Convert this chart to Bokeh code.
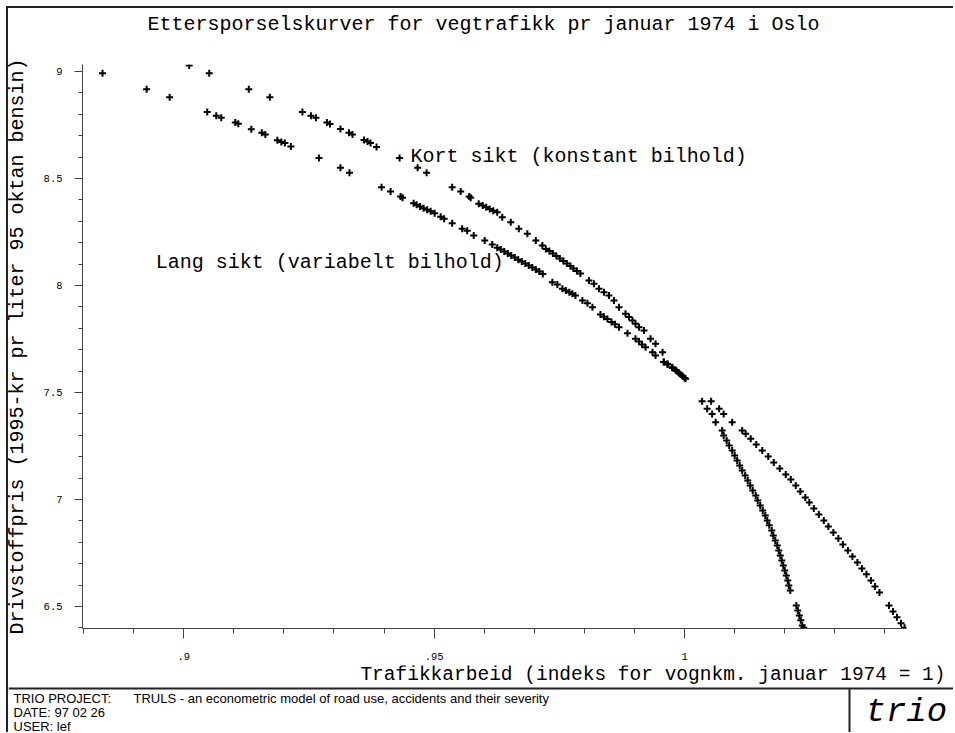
from bokeh.plotting import figure
from bokeh.layouts import column
from bokeh.models import Range1d, FixedTicker, Label
from bokeh.embed import file_html
from bokeh.resources import INLINE

# ---- texts ----
title_text = "Ettersporselskurver for vegtrafikk pr januar 1974 i Oslo"
x_title = "Trafikkarbeid (indeks for vognkm. januar 1974 = 1)"
y_title = "Drivstoffpris (1995-kr pr liter 95 oktan bensin)"
kort_label = "Kort sikt (konstant bilhold)"
lang_label = "Lang sikt (variabelt bilhold)"
footer_project = "TRIO PROJECT:"
footer_desc = "TRULS - an econometric model of road use, accidents and their severity"
footer_date = "DATE: 97 02 26"
footer_user = "USER: lef"
logo_text = "trio"

# ---- ticks ----
x_ticks = [0.9, 0.95, 1.0]
x_tick_labels = [".9", ".95", "1"]
x_minor = [0.88, 0.89, 0.91, 0.92, 0.93, 0.94, 0.96, 0.97, 0.98, 0.99, 1.01, 1.02, 1.03, 1.04]
y_ticks = [6.5, 7.0, 7.5, 8.0, 8.5, 9.0]
y_tick_labels = ["6.5", "7", "7.5", "8", "8.5", "9"]
y_minor = [6.4, 6.6, 6.7, 6.8, 6.9, 7.1, 7.2, 7.3, 7.4, 7.6, 7.7, 7.8, 7.9,
           8.1, 8.2, 8.3, 8.4, 8.6, 8.7, 8.8, 8.9]

# ---- data: long run (lang sikt) ----
lang_x = [0.8792, 0.8838, 0.8926, 0.8972, 0.9047, 0.9065, 0.9075, 0.9103, 0.9109, 0.9135,
          0.9156, 0.9163, 0.9187, 0.9195, 0.9202, 0.9214, 0.9270, 0.9313, 0.9331, 0.9395,
          0.9413, 0.9433, 0.9437, 0.9459, 0.9465, 0.9472, 0.9479, 0.9486, 0.9493, 0.9501,
          0.9513, 0.9520, 0.9536, 0.9556, 0.9566, 0.9579, 0.9601, 0.9616, 0.9626, 0.9633,
          0.9640, 0.9647, 0.9654, 0.9661, 0.9668, 0.9675, 0.9682, 0.9689, 0.9696, 0.9703,
          0.9710, 0.9717, 0.9736, 0.9746, 0.9756, 0.9763, 0.9770, 0.9776, 0.9782, 0.9796,
          0.9806, 0.9816, 0.9832, 0.9839, 0.9846, 0.9854, 0.9861, 0.9869, 0.9886, 0.9902,
          0.9909, 0.9915, 0.9922, 0.9936, 0.9942, 0.9958, 0.9966, 0.9976, 0.9984, 0.9992,
          1.0000,
          1.0053, 1.0069, 1.0078, 1.0095, 1.0115, 1.0122, 1.0132, 1.0143, 1.0155, 1.0167,
          1.0178, 1.0190, 1.0202, 1.0212, 1.0222, 1.0231, 1.0241, 1.0249, 1.0258, 1.0268,
          1.0278, 1.0287, 1.0297, 1.0307, 1.0316, 1.0326, 1.0335, 1.0345, 1.0354, 1.0363,
          1.0372, 1.0380, 1.0389, 1.0408, 1.0416, 1.0424, 1.0432, 1.0439]
lang_y = [9.028, 8.992, 8.917, 8.880, 8.811, 8.794, 8.784, 8.762, 8.756, 8.730,
          8.714, 8.706, 8.679, 8.671, 8.666, 8.650, 8.596, 8.551, 8.527, 8.459,
          8.439, 8.416, 8.410, 8.385, 8.377, 8.369, 8.361, 8.354, 8.347, 8.338,
          8.322, 8.312, 8.291, 8.265, 8.256, 8.234, 8.210, 8.192, 8.176, 8.168,
          8.159, 8.150, 8.140, 8.131, 8.121, 8.112, 8.103, 8.093, 8.084, 8.075,
          8.065, 8.054, 8.015, 8.005, 7.985, 7.977, 7.969, 7.961, 7.953, 7.930,
          7.917, 7.899, 7.864, 7.854, 7.843, 7.830, 7.819, 7.805, 7.777, 7.751,
          7.738, 7.724, 7.712, 7.688, 7.673, 7.642, 7.631, 7.614, 7.600, 7.584,
          7.568,
          7.459, 7.424, 7.400, 7.361, 7.322, 7.307, 7.284, 7.257, 7.229, 7.201,
          7.173, 7.145, 7.117, 7.093, 7.065, 7.037, 7.009, 6.986, 6.958, 6.930,
          6.902, 6.874, 6.846, 6.818, 6.790, 6.762, 6.734, 6.706, 6.678, 6.650,
          6.621, 6.593, 6.565, 6.505, 6.477, 6.449, 6.421, 6.400]

# ---- data: short run (kort sikt) ----
kort_x = [0.9011, 0.9051, 0.9130, 0.9172, 0.9237, 0.9254, 0.9264, 0.9286, 0.9292, 0.9313,
          0.9330, 0.9337, 0.9360, 0.9367, 0.9373, 0.9385, 0.9431, 0.9467, 0.9485, 0.9536,
          0.9553, 0.9570, 0.9573, 0.9589, 0.9597, 0.9604, 0.9611, 0.9618, 0.9626, 0.9636,
          0.9653, 0.9669, 0.9686, 0.9703, 0.9716, 0.9723, 0.9730, 0.9737, 0.9744, 0.9751,
          0.9758, 0.9765, 0.9772, 0.9778, 0.9785, 0.9792, 0.9809, 0.9819, 0.9829, 0.9839,
          0.9849, 0.9859, 0.9869, 0.9882, 0.9889, 0.9896, 0.9902, 0.9909, 0.9919, 0.9932,
          0.9942, 0.9956, 0.9959, 0.9966, 0.9975, 0.9982, 0.9989, 0.9996, 1.0002,
          1.0035, 1.0045, 1.0055, 1.0062, 1.0075, 1.0078, 1.0084, 1.0089, 1.0095, 1.0100,
          1.0105, 1.0110, 1.0115, 1.0121, 1.0126, 1.0131, 1.0136, 1.0142, 1.0146, 1.0151,
          1.0156, 1.0161, 1.0165, 1.0169, 1.0174, 1.0177, 1.0181, 1.0185, 1.0188, 1.0191,
          1.0194, 1.0197, 1.0200, 1.0203, 1.0206, 1.0208, 1.0211,
          1.0223, 1.0226, 1.0229, 1.0232, 1.0235, 1.0238]
kort_y = [9.028, 8.992, 8.917, 8.880, 8.811, 8.794, 8.784, 8.762, 8.755, 8.731,
          8.714, 8.706, 8.680, 8.673, 8.666, 8.647, 8.596, 8.551, 8.527, 8.459,
          8.439, 8.416, 8.410, 8.382, 8.374, 8.366, 8.358, 8.350, 8.343, 8.319,
          8.296, 8.265, 8.242, 8.210, 8.187, 8.171, 8.161, 8.150, 8.138, 8.126,
          8.115, 8.103, 8.091, 8.079, 8.068, 8.056, 8.023, 8.008, 7.985, 7.969,
          7.953, 7.930, 7.899, 7.868, 7.853, 7.836, 7.821, 7.805, 7.790, 7.751,
          7.728, 7.688, 7.642, 7.634, 7.618, 7.605, 7.591, 7.577, 7.564,
          7.459, 7.424, 7.400, 7.361, 7.322, 7.299, 7.276, 7.252, 7.229, 7.206,
          7.182, 7.159, 7.136, 7.112, 7.089, 7.065, 7.042, 7.019, 6.995, 6.972,
          6.949, 6.925, 6.902, 6.879, 6.855, 6.832, 6.808, 6.785, 6.762, 6.738,
          6.715, 6.692, 6.668, 6.645, 6.621, 6.598, 6.575,
          6.505, 6.481, 6.458, 6.435, 6.411, 6.400]

MONO = "Liberation Mono"
SANS = "Liberation Sans"
AXC = "#444444"
W = 945


def no_align(f):
    try:
        f.frame_align = False
    except Exception:
        pass


def strip(height):
    """A plain canvas (no axes) whose data units equal pixels, y downward."""
    f = figure(width=W, height=height, x_range=Range1d(0, W), y_range=Range1d(height, 0),
               x_axis_type=None, y_axis_type=None, output_backend="svg",
               toolbar_location=None, min_border=0)
    f.outline_line_color = None
    f.grid.visible = False
    f.border_fill_color = None
    f.background_fill_color = None
    no_align(f)
    return f


def put(f, x, y, text, font, size, align="left", baseline="middle", style="normal"):
    f.add_layout(Label(x=x, y=y, text=text, text_align=align, text_baseline=baseline,
                       text_font=font, text_font_size=size, text_font_style=style,
                       text_color="black"))


# ---------- header ----------
header = strip(37)
put(header, 475, 16, title_text, MONO, "20px", align="center")

# ---------- main plot ----------
p = figure(width=W, height=620,
           x_range=Range1d(0.8798, 1.0443), y_range=Range1d(6.397, 9.033),
           output_backend="svg", toolbar_location=None,
           min_border_left=80, min_border_right=41, min_border_top=19, min_border_bottom=37)
p.styles = {"margin-left": "-6px"}
p.outline_line_color = None
p.grid.visible = False
p.border_fill_color = None
no_align(p)

xa = p.xaxis[0]
xa.ticker = FixedTicker(ticks=x_ticks, minor_ticks=x_minor)
xa.major_label_overrides = dict(zip(x_ticks, x_tick_labels))
xa.major_tick_out = 10
xa.major_tick_in = 0
xa.minor_tick_out = 5
xa.minor_tick_in = 0
xa.major_label_standoff = 14
xa.major_label_text_font = MONO
xa.major_label_text_font_size = "10.5px"
xa.major_label_text_color = "black"
xa.axis_line_color = AXC
xa.major_tick_line_color = AXC
xa.minor_tick_line_color = AXC

ya = p.yaxis[0]
ya.ticker = FixedTicker(ticks=y_ticks, minor_ticks=y_minor)
ya.major_label_overrides = dict(zip(y_ticks, y_tick_labels))
ya.major_tick_out = 8
ya.major_tick_in = 0
ya.minor_tick_out = 4
ya.minor_tick_in = 0
ya.major_label_standoff = 12
ya.major_label_orientation = "horizontal"
ya.major_label_text_font = MONO
ya.major_label_text_font_size = "10.5px"
ya.major_label_text_color = "black"
ya.axis_line_color = AXC
ya.major_tick_line_color = AXC
ya.minor_tick_line_color = AXC
ya.axis_label = y_title
ya.axis_label_text_font = MONO
ya.axis_label_text_font_size = "20px"
ya.axis_label_text_font_style = "normal"
ya.axis_label_text_color = "black"
ya.axis_label_standoff = 12

p.scatter(lang_x, lang_y, marker="cross", size=7, line_width=2, color="black")
p.scatter(kort_x, kort_y, marker="cross", size=7, line_width=2, color="black")

p.add_layout(Label(x=0.9453, y=8.603, text=kort_label, text_baseline="middle",
                   text_font=MONO, text_font_size="20px", text_color="black"))
p.add_layout(Label(x=0.8944, y=8.107, text=lang_label, text_baseline="middle",
                   text_font=MONO, text_font_size="20px", text_color="black"))

# ---------- footer ----------
FH = 67
footer = strip(FH)
put(footer, 937, 9, x_title, MONO, "19.5px", align="right")
footer.segment(x0=[0, 841], y0=[23, 23], x1=[W, 841], y1=[23, FH],
               line_color="#222222", line_width=2)
put(footer, 5, 32.5, footer_project, SANS, "13px")
put(footer, 125, 32.5, footer_desc, SANS, "13px")
put(footer, 5, 46.5, footer_date, SANS, "13px")
put(footer, 5, 60.5, footer_user, SANS, "13px")
put(footer, 857, 46.5, logo_text, MONO, "34px", style="italic")

page = column(header, p, footer, spacing=0,
              styles={"margin-left": "6px", "margin-top": "6px",
                      "border-left": "2px solid #222222",
                      "border-top": "2px solid #222222"})

open("out.html", "w").write(file_html(page, INLINE))
